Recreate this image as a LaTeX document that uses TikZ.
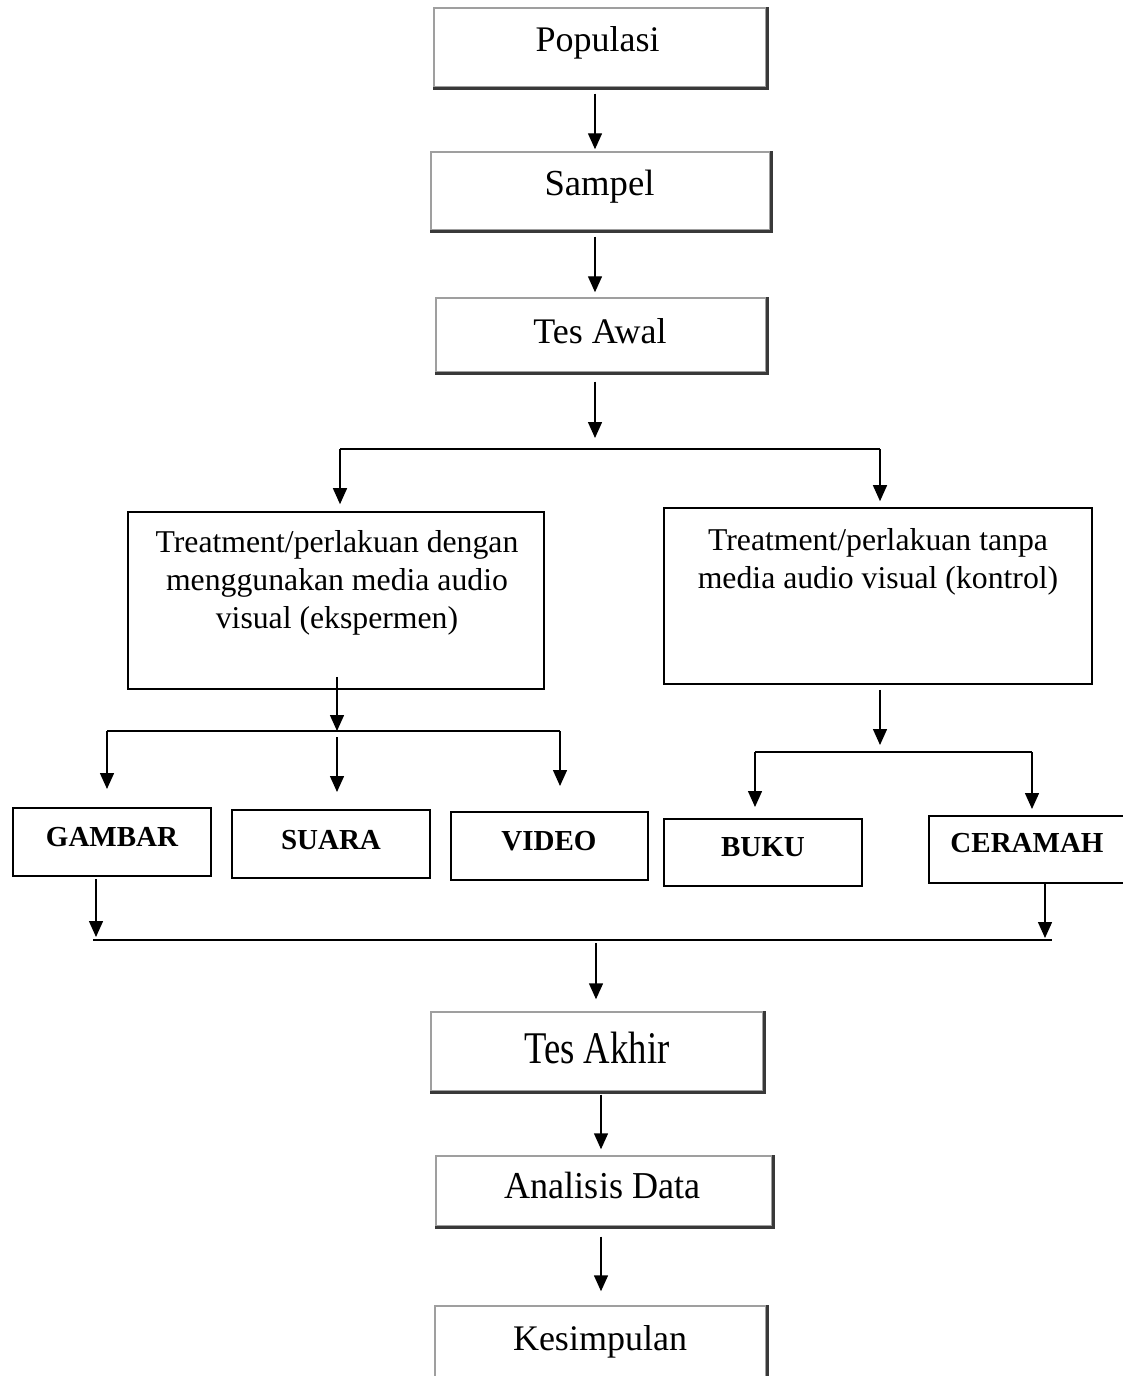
\documentclass[tikz,border=0pt]{standalone}
\usepackage{fontspec}
\setmainfont{Liberation Serif}
\usetikzlibrary{arrows.meta,fit,calc}
\begin{document}
\begin{tikzpicture}[x=0.75pt,y=-0.75pt,
  arr/.style={-{Triangle[width=10.5pt,length=12pt]}, line width=1.1pt},
  busline/.style={line width=1.4pt},
  topbox/.style={draw=gray!75, line width=1.1pt, inner sep=0pt},
  toptext/.style={inner sep=0pt, anchor=base},
  shadeline/.style={draw=gray!45!black, line width=2pt},
  treatbox/.style={draw, line width=1.2pt, inner sep=0pt},
  treattext/.style={inner sep=0pt, align=center, anchor=north,
    font=\fontsize{23.8}{28.5}\selectfont},
  catbox/.style={draw, line width=1.5pt, inner sep=0pt},
  cattext/.style={inner sep=0pt, font=\bfseries\fontsize{21.75}{26}\selectfont}]
\useasboundingbox (0,0) rectangle (1122,1376);
\fill[white] (0,0) rectangle (1122,1376);

% top chain boxes
\node[topbox, fit={(434,8) (766,87)}] (pop) {};
\node[toptext] (poptxt) at (597.5,52) {\fontsize{27}{30}\selectfont Populasi};
\node[topbox, fit={(431,152) (770,230)}] (sam) {};
\node[toptext] (samtxt) at (599.5,196) {\fontsize{27.5}{30}\selectfont Sampel};
\node[topbox, fit={(436,298) (766,372)}] (awal) {};
\node[toptext] (awaltxt) at (600,343) {\fontsize{27}{30}\selectfont Tes Awal};

% treatment boxes
\node[treatbox, fit={(128,512) (544,689)}] (t1) {};
\node[treattext] (t1txt) at (337,530) {Treatment/perlakuan dengan\\menggunakan media audio\\visual (ekspermen)};
\node[treatbox, fit={(664,508) (1092,684)}] (t2) {};
\node[treattext] (t2txt) at (878,528) {Treatment/perlakuan tanpa\\media audio visual (kontrol)};

% category boxes
\node[catbox, fit={(13,808) (211,876)}] (gam) {};
\node[cattext] (gamtxt) at (112,837) {GAMBAR};
\node[catbox, fit={(232,810) (430,878)}] (sua) {};
\node[cattext] (suatxt) at (331,840) {SUARA};
\node[catbox, fit={(451,812) (648,880)}] (vid) {};
\node[cattext] (vidtxt) at (549,841) {VIDEO};
\node[catbox, fit={(664,819) (862,886)}] (buk) {};
\node[cattext] (buktxt) at (763,847) {BUKU};
\node[catbox, fit={(929,816) (1132,883)}] (cer) {};
\node[cattext] (certxt) at (1027,843) {CERAMAH};

% bottom chain boxes
\node[topbox, fit={(431,1012) (763,1091)}] (akh) {};
\node[toptext] (akhtxt) at (597,1063) {\scalebox{0.81}[1]{\fontsize{34}{36}\selectfont Tes Akhir}};
\node[topbox, fit={(436,1156) (772,1226)}] (ana) {};
\node[toptext] (anatxt) at (602.5,1198) {\scalebox{0.95}[1]{\fontsize{28.5}{32}\selectfont Analisis Data}};
\node[topbox, fit={(435,1306) (766,1390)}] (kes) {};
\node[toptext] (kestxt) at (600,1350) {\fontsize{27}{30}\selectfont Kesimpulan};

% shadows of the top/bottom chain boxes
\foreach \n in {pop,sam,awal,akh,ana,kes}
  \draw[shadeline] ([xshift=0.5pt]\n.north east) -- ([xshift=0.5pt,yshift=-0.5pt]\n.south east) -- ([yshift=-0.5pt]\n.south west);

% coordinates
\coordinate (xa) at (595,0);
\coordinate (xb) at (601,0);
\coordinate (b1) at (595,449);
\coordinate (b1l) at (340,449);
\coordinate (b1r) at (880,449);
\coordinate (b2) at (337,731);
\coordinate (b2l) at (107,731);
\coordinate (b2r) at (560,731);
\coordinate (b3) at (880,752);
\coordinate (b3l) at (755,752);
\coordinate (b3r) at (1032,752);
\coordinate (b4) at (596,940);
\coordinate (b4l) at (93,940);
\coordinate (b4r) at (1052,940);
\coordinate (g4) at (96,940);
\coordinate (c4) at (1045,940);

% connectors
\draw[arr, shorten <=4.5pt, shorten >=1.5pt] (pop.south -| xa) -- (sam.north -| xa);
\draw[arr, shorten <=4.5pt, shorten >=3.75pt] (sam.south -| xa) -- (awal.north -| xa);
\draw[arr, shorten <=6.75pt, shorten >=8.25pt] (awal.south -| b1) -- (b1);
\draw[busline] (b1l) -- (b1r);
\draw[arr, shorten >=5.25pt] (b1l) -- (t1.north -| b1l);
\draw[arr, shorten >=4.5pt] (b1r) -- (t2.north -| b1r);

\draw[arr, shorten <=-9.75pt] (t1.south -| b2) -- (b2);
\draw[busline] (b2l) -- (b2r);
\draw[arr, shorten >=13.5pt] (b2l) -- (gam.north -| b2l);
\draw[arr, shorten <=4.5pt, shorten >=12.75pt] (b2) -- (sua.north -| b2);
\draw[arr, shorten >=18.75pt] (b2r) -- (vid.north -| b2r);

\draw[arr, shorten <=3.75pt, shorten >=5.25pt] (t2.south -| b3) -- (b3);
\draw[busline] (b3l) -- (b3r);
\draw[arr, shorten >=8.25pt] (b3l) -- (buk.north -| b3l);
\draw[arr, shorten >=4.5pt] (b3r) -- (cer.north -| b3r);

\draw[arr, shorten <=1.5pt, shorten >=2.25pt] (gam.south -| g4) -- (g4);
\draw[arr, shorten >=1.5pt] (cer.south -| c4) -- (c4);
\draw[busline] (b4l) -- (b4r);
\draw[arr, shorten <=2.25pt, shorten >=9pt] (b4) -- (akh.north -| b4);
\draw[arr, shorten <=2.25pt, shorten >=4.5pt] (akh.south -| xb) -- (ana.north -| xb);
\draw[arr, shorten <=7.5pt, shorten >=10.5pt] (ana.south -| xb) -- (kes.north -| xb);
\end{tikzpicture}
\end{document}
